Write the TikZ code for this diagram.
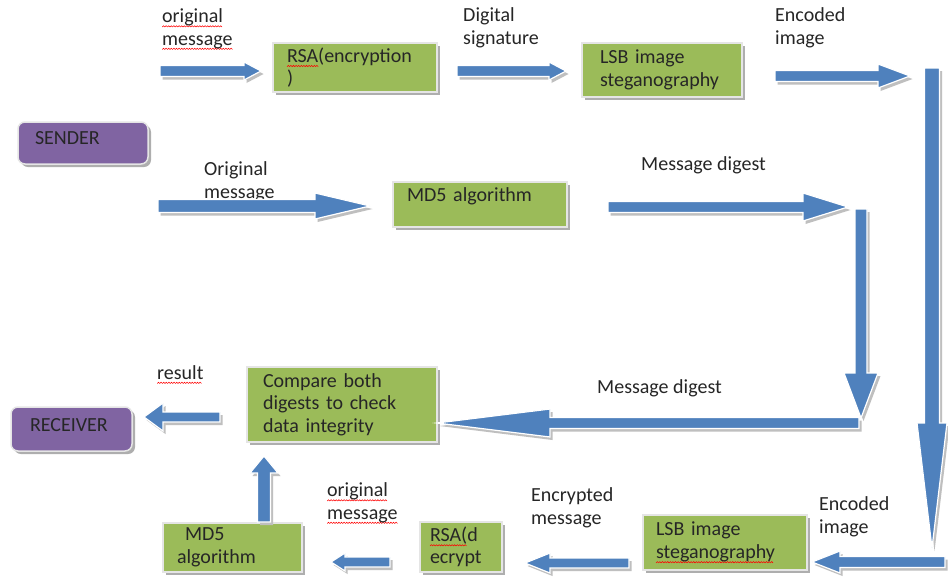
\documentclass[tikz,border=0pt]{standalone}
\usepackage{fontspec}
\setmainfont{Carlito}
\usetikzlibrary{shadows}

\definecolor{boxgreen}{HTML}{9BBB59}
\definecolor{rolepurple}{HTML}{8064A2}
\definecolor{flowblue}{HTML}{4F81BD}
\definecolor{inkgray}{HTML}{262626}

% red wavy underline, as a spell checker marks a word
\newsavebox\zigbox
\newcommand\makezig{\global\setbox\zigbox\hbox{\tikz[baseline=0pt]{\useasboundingbox (0pt,0pt) rectangle (2.6pt,1.3pt);
  \draw[red, line width=0.55pt] (0pt,0pt) -- (1.3pt,1.3pt) -- (2.6pt,0pt);}}}
\newcommand\spell[1]{\leavevmode\hbox{\setbox0\hbox{#1}\rlap{\lower4.5pt\hbox to \wd0{\leaders\copy\zigbox\hfill}}\box0}}

\tikzset{
  procbox/.style={fill=boxgreen, draw=black!10, line width=1.5pt,
    drop shadow={shadow xshift=3pt, shadow yshift=-3pt, fill=black!45, opacity=0.7},
    align=left, inner ysep=0pt, text=inkgray, font=\fontsize{20}{22.5}\selectfont},
  rolebox/.style={procbox, fill=rolepurple, rounded corners=7pt},
  flowlabel/.style={anchor=base west, align=left, inner sep=0pt, text=inkgray,
    font=\fontsize{20}{22.5}\selectfont},
  arrowbody/.style={fill=flowblue, draw=white, line width=1.2pt},
  arrowshade/.style={fill=black!25, xshift=2.5pt, yshift=-3pt},
}

% box given by its corners (x1,y1)-(x2,y2) and a left/right text padding
\newcommand{\procnode}[8]{% name, style, x1, y1, x2, y2, pad, text
  \pgfmathsetmacro\bw{#5-#3}\pgfmathsetmacro\bh{#6-#4}\pgfmathsetmacro\tw{#5-#3-2*#7}%
  \node[#2, minimum width=\bw pt, minimum height=\bh pt, text width=\tw pt, inner xsep=#7pt]
    (#1) at ({(#3+#5)/2},{(#4+#6)/2}) {#8};
}

% horizontal block arrow: x tail, x tip, y, shaft half width, head half width, signed head length
\newcommand{\harr}[6]{%
  \path[arrowshade] (#1,{#3-(#4)}) -- ({#2-(#6)},{#3-(#4)}) -- ({#2-(#6)},{#3-(#5)}) -- (#2,#3)
    -- ({#2-(#6)},{#3+(#5)}) -- ({#2-(#6)},{#3+(#4)}) -- (#1,{#3+(#4)}) -- cycle;
  \path[arrowbody] (#1,{#3-(#4)}) -- ({#2-(#6)},{#3-(#4)}) -- ({#2-(#6)},{#3-(#5)}) -- (#2,#3)
    -- ({#2-(#6)},{#3+(#5)}) -- ({#2-(#6)},{#3+(#4)}) -- (#1,{#3+(#4)}) -- cycle;
}
% vertical block arrow: x, y tail, y tip, shaft half width, head half width, signed head length
\newcommand{\varr}[6]{%
  \path[arrowshade] ({#1-(#4)},#2) -- ({#1-(#4)},{#3-(#6)}) -- ({#1-(#5)},{#3-(#6)}) -- (#1,#3)
    -- ({#1+(#5)},{#3-(#6)}) -- ({#1+(#4)},{#3-(#6)}) -- ({#1+(#4)},#2) -- cycle;
  \path[arrowbody] ({#1-(#4)},#2) -- ({#1-(#4)},{#3-(#6)}) -- ({#1-(#5)},{#3-(#6)}) -- (#1,#3)
    -- ({#1+(#5)},{#3-(#6)}) -- ({#1+(#4)},{#3-(#6)}) -- ({#1+(#4)},#2) -- cycle;
}

\begin{document}
\begin{tikzpicture}[x=1pt, y=-1pt]
  \pgfinterruptpicture\makezig\endpgfinterruptpicture
  \useasboundingbox[fill=white] (0,0) rectangle (948,579);

  % sender and receiver
  \procnode{sender}{rolebox}{18}{122}{148}{164}{17}{SENDER\\[-12pt]\mbox{}}
  \procnode{receiver}{rolebox}{11}{407}{132}{451}{19}{RECEIVER\\[-15pt]\mbox{}}

  % sending side
  \procnode{rsaenc}{procbox}{273}{43}{437}{92}{14}{\spell{RSA}(encryption\\)}
  \procnode{lsbenc}{procbox}{582}{43}{742}{97}{18}{LSB image\\steganography}
  \procnode{mdsend}{procbox}{393}{182}{567}{227}{14}{MD5 algorithm\\[-2pt]\mbox{}}

  % receiving side
  \procnode{compare}{procbox}{247}{367}{437}{442}{16}{Compare both\\digests to check\\data integrity}
  \procnode{mdrecv}{procbox}{163}{523}{302}{572}{14}{\hspace*{8pt}MD5\\algorithm}
  \procnode{rsadec}{procbox}{420}{522}{502}{572}{10}{\spell{RSA(}d\\ecrypt}
  \procnode{lsbdec}{procbox}{643}{515}{807}{570}{13}{LSB image\\\spell{steganography}}

  % flow labels (anchored at the baseline of their last line)
  \node[flowlabel] (l1) at (162,45) {\spell{original}\\\spell{message}};
  \node[flowlabel] (l2) at (463,44) {Digital\\signature};
  \node[flowlabel] (l3) at (775,44) {Encoded\\image};
  \node[flowlabel] (l4) at (204,198) {Original\\message};
  \node[flowlabel] (l5) at (641,170) {Message digest};
  \node[flowlabel] (l6) at (597,393) {Message digest};
  \node[flowlabel] (l7) at (157,379) {\spell{result}};
  \node[flowlabel] (l8) at (327,519) {\spell{original}\\\spell{message}};
  \node[flowlabel] (l9) at (531,524) {Encrypted\\message};
  \node[flowlabel] (l10) at (819,533) {Encoded\\image};

  % block arrows, sending side
  \harr{160}{261}{71}{5.5}{9}{17}
  \harr{457}{566}{71}{5.5}{9}{17}
  \harr{775}{910}{76}{5.5}{12}{32}
  \harr{158}{370}{206}{6.5}{13}{55}
  \harr{608}{848}{207}{5.5}{14}{45}
  \varr{932}{68}{548}{7.5}{15}{125}
  \varr{861}{209}{418}{6}{17}{45}

  % block arrows, receiving side
  \harr{945}{812}{562}{5.5}{11}{-28}
  \harr{629}{525}{563}{5}{10}{-25}
  \harr{390}{331}{562}{5}{9}{-14}
  \varr{264}{522}{456}{6.5}{14}{-17}
  \harr{859}{437}{423}{5.5}{14}{-113}
  \harr{220}{144}{417}{5}{14}{-19}
\end{tikzpicture}
\end{document}
